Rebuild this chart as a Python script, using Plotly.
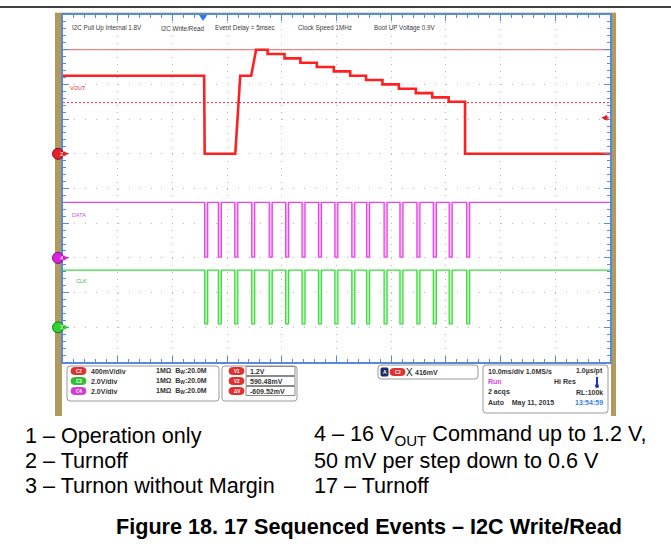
import plotly.graph_objects as go

W, H = 671, 557

# ---- data (time in ms, levels in V) ----
vout_t = [0.0, 25.8, 25.9, 31.5, 32.4, 34.4, 35.3]
vout_v = [0.90, 0.90, 0.00, 0.00, 0.90, 0.90, 1.20]
step_edges = [37.4, 40.5, 43.4, 46.4, 49.5, 52.5, 55.4, 58.4, 61.4, 64.5, 67.5, 70.5, 73.5]
step_levels = [1.20, 1.15, 1.10, 1.05, 1.00, 0.95, 0.90, 0.85, 0.80, 0.75, 0.70, 0.65, 0.60]
vout_off = 0.0

pulse_t = [25.9, 28.4, 31.4, 34.5, 37.7, 40.7, 43.7, 46.7, 49.7, 52.8, 55.5, 58.7, 61.6, 64.7, 67.7, 70.6, 73.8]
data_hi, data_lo = 3.2, 0.05
clk_hi, clk_lo = 3.3, 0.2

cursor_v1 = 1.2
cursor_v2 = 0.59048
trig_level = 0.416
trig_time = 25.6

screen_notes = ['I2C Pull Up Internal 1.8V', 'I2C Write/Read', 'Event Delay = 5msec',
                'Clock Speed 1MHz', 'Boot UP Voltage 0.9V']
chan_names = ['C2', 'C3', 'C4']
chan_scales = ['400mV/div', '2.0V/div', '2.0V/div']
chan_bw = ['1MΩ  B<sub>W</sub>:20.0M'] * 3
cursor_names = ['V1', 'V2', 'ΔV']
cursor_vals = ['1.2V', '590.48mV', '-609.52mV']
timebase = ['10.0ms/div 1.0MS/s', '1.0µs/pt', 'Run', 'Hi Res', '2 acqs', 'RL:100k',
            'Auto    May 11, 2015', '13:54:59']
left_caption = ['1 – Operation only', '2 – Turnoff', '3 – Turnon without Margin']
right_caption = ['4 – 16 V<sub>OUT</sub> Command up to 1.2 V,', '50 mV per step down to 0.6 V',
                 '17 – Turnoff']
title = 'Figure 18. 17 Sequenced Events – I2C Write/Read'

RED, MAG, GRN = '#ff2020', '#e845e8', '#3ede3e'
BLUE = '#5a8ad6'
PULSE_W = 0.55


def fx(x):
    return x / W


def fy(y):
    return 1 - y / H


def rrect(x0, y0, x1, y1, r):
    return (f"M {fx(x0 + r)},{fy(y0)} L {fx(x1 - r)},{fy(y0)} Q {fx(x1)},{fy(y0)} {fx(x1)},{fy(y0 + r)} "
            f"L {fx(x1)},{fy(y1 - r)} Q {fx(x1)},{fy(y1)} {fx(x1 - r)},{fy(y1)} "
            f"L {fx(x0 + r)},{fy(y1)} Q {fx(x0)},{fy(y1)} {fx(x0)},{fy(y1 - r)} "
            f"L {fx(x0)},{fy(y0 + r)} Q {fx(x0)},{fy(y0)} {fx(x0 + r)},{fy(y0)} Z")


shapes = []
annotations = []


def box(x0, y0, x1, y1, r=3, fill='white', line='#9a9a9a', width=1):
    shapes.append(dict(type='path', path=rrect(x0, y0, x1, y1, r), xref='paper', yref='paper',
                       fillcolor=fill, line=dict(color=line, width=width), layer='above'))


def rect(x0, y0, x1, y1, fill):
    shapes.append(dict(type='rect', xref='paper', yref='paper', x0=fx(x0), x1=fx(x1),
                       y0=fy(y1), y1=fy(y0), fillcolor=fill, line=dict(width=0), layer='below'))


def txt(x, y, s, size=7, color='#333333', bold=False, anchor='left', family='Liberation Sans'):
    annotations.append(dict(x=fx(x), y=fy(y), xref='paper', yref='paper', text=s, showarrow=False,
                            xanchor=anchor, yanchor='middle', borderpad=0,
                            font=dict(size=size, color=color, family=family,
                                      weight='bold' if bold else 'normal')))


def pill(x0, y, s, color):
    box(x0, y - 3.5, x0 + 15, y + 3.5, r=3.5, fill=color, line=color)
    txt(x0 + 7.5, y, s, size=4.5, color='white', bold=True, anchor='center')


# ---- build traces ----
vx, vy = list(vout_t), list(vout_v)
for i, e in enumerate(step_edges):
    nxt = step_levels[i + 1] if i + 1 < len(step_levels) else vout_off
    vx += [e, e]
    vy += [step_levels[i], nxt]
vx.append(100)
vy.append(vout_off)


def pulses(hi, lo):
    lx, ly, fxs, fys = [0], [hi], [], []
    for t in pulse_t:
        lx += [t, t, t + PULSE_W, t + PULSE_W]
        ly += [hi, lo, lo, hi]
        fxs += [t, t, t + PULSE_W, t + PULSE_W, None]
        fys += [hi, lo, lo, hi, None]
    lx.append(100)
    ly.append(hi)
    return lx, ly, fxs, fys


fig = go.Figure()
fig.add_trace(go.Scatter(x=vx, y=vy, mode='lines', line=dict(color=RED, width=2.6), yaxis='y'))

dx, dy, dfx, dfy = pulses(data_hi, data_lo)
fig.add_trace(go.Scatter(x=dfx, y=dfy, fill='toself', fillcolor='#f6c0f6', mode='lines',
                         line=dict(width=0), yaxis='y2'))
fig.add_trace(go.Scatter(x=dx, y=dy, mode='lines', line=dict(color=MAG, width=1.3), yaxis='y2'))

cx, cy, cfx, cfy = pulses(clk_hi, clk_lo)
fig.add_trace(go.Scatter(x=cfx, y=cfy, fill='toself', fillcolor='#c4f2c4', mode='lines',
                         line=dict(width=0), yaxis='y3'))
fig.add_trace(go.Scatter(x=cx, y=cy, mode='lines', line=dict(color=GRN, width=1.3), yaxis='y3'))

# ground reference markers on the left edge (circle + small arrow), placed at 0 V of each channel
for ax, num, col, edge in [('y', '2', '#e8202a', '#801018'), ('y2', '4', '#e020e0', '#801080'),
                           ('y3', '3', '#30d030', '#108010')]:
    shapes.append(dict(type='circle', xref='paper', yref=ax, ysizemode='pixel', yanchor=0,
                       x0=fx(52.5), x1=fx(63.5), y0=-5.5, y1=5.5,
                       fillcolor=col, line=dict(color=edge, width=1), layer='above'))
    shapes.append(dict(type='path', xref='paper', yref=ax, ysizemode='pixel', yanchor=0,
                       path=f'M {fx(64)},2.5 L {fx(68.5)},0 L {fx(64)},-2.5 Z',
                       fillcolor=col, line=dict(width=0), layer='above'))
    annotations.append(dict(x=fx(58), y=0, xref='paper', yref=ax, text=num, showarrow=False,
                            font=dict(size=6, color='white', family='Liberation Sans')))

# ---- scope frame ----
shapes.append(dict(type='line', xref='paper', yref='paper', x0=0, x1=1, y0=fy(7), y1=fy(7),
                   line=dict(color='black', width=1.5)))
rect(55, 12, 616, 14, '#dfe2a8')
rect(55, 13, 62, 416, '#b29a5e')
rect(611, 13, 616, 416, '#b29a5e')

# cursors
shapes.append(dict(type='line', xref='paper', yref='y', x0=fx(63), x1=fx(610), y0=cursor_v1, y1=cursor_v1,
                   line=dict(color='#f08080', width=1.2), layer='between'))
shapes.append(dict(type='line', xref='paper', yref='y', x0=fx(63), x1=fx(610), y0=cursor_v2, y1=cursor_v2,
                   line=dict(color='#e03030', width=1, dash='2px,2px'), layer='between'))

# trigger level arrow and trigger position
annotations.append(dict(x=98.4, y=trig_level, xref='x', yref='y', ax=9, ay=0, text='',
                        showarrow=True, arrowhead=2, arrowsize=0.8, arrowwidth=1.5, arrowcolor='#e02020'))
shapes.append(dict(type='path', xref='x', yref='paper', xsizemode='pixel', ysizemode='pixel',
                   xanchor=trig_time, yanchor=fy(15), path='M -4,0 L 4,0 L 0,-6 Z',
                   fillcolor='#2a7ae2', line=dict(width=0), layer='above'))

# on-screen notes
for s, x in zip(screen_notes, [71, 160, 214, 297, 373]):
    txt(x, 28, s, size=6.3, color='#3a3a3a')

# channel labels
annotations.append(dict(x=0.9, y=0.76, xref='x', yref='y', text='VOUT', showarrow=False, xanchor='left',
                        font=dict(size=5.5, color='#e03030', family='Liberation Sans')))
annotations.append(dict(x=1.2, y=2.5, xref='x', yref='y2', text='DATA', showarrow=False, xanchor='left',
                        font=dict(size=5.5, color='#d050d0', family='Liberation Sans')))
annotations.append(dict(x=2.1, y=2.65, xref='x', yref='y3', text='CLK', showarrow=False, xanchor='left',
                        font=dict(size=5.5, color='#40c040', family='Liberation Sans')))

# ---- info panel under the grid ----
box(67, 366, 219, 401)
for i, (n, sc, bw, col) in enumerate(zip(chan_names, chan_scales, chan_bw, ['#e03030', '#30c030', '#d040d0'])):
    y = 371 + 10 * i
    pill(71, y, n, col)
    txt(90, y, sc, bold=True)
    txt(155, y, bw, bold=True)

box(222, 366, 297, 401)
for i, (n, v) in enumerate(zip(cursor_names, cursor_vals)):
    y = 371 + 10 * i
    pill(229, y, n, '#e03030')
    box(246, y - 4.5, 295, y + 4.5, r=0, line='#8a8a8a')
    txt(249, y, v, bold=True)

box(378, 365, 478, 379)
box(381, 368, 388, 376, r=1, fill='#1c2c5c', line='#1c2c5c')
txt(384.5, 372, 'A', size=5, color='white', bold=True, anchor='center')
pill(390, 372, 'C2', '#e03030')
txt(405, 372, 'X', size=10, color='#222222')
txt(414, 372, '416mV', bold=True)

box(483, 365, 608, 413)
txt(487, 371, timebase[0], bold=True)
txt(604, 371, timebase[1], bold=True, anchor='right')
txt(487, 381.5, timebase[2], bold=True, color='#e040e0')
txt(553, 381.5, timebase[3], bold=True)
txt(487, 392, timebase[4], bold=True)
txt(604, 392, timebase[5], bold=True, anchor='right')
txt(487, 402.5, timebase[6], bold=True)
txt(604, 402.5, timebase[7], bold=True, anchor='right', color='#3a80e0')
shapes.append(dict(type='line', xref='paper', yref='paper', x0=fx(597), x1=fx(597), y0=fy(377), y1=fy(385),
                   line=dict(color='#2030c0', width=2), layer='above'))
shapes.append(dict(type='circle', xref='paper', yref='paper', x0=fx(595), x1=fx(599), y0=fy(388), y1=fy(384),
                   fillcolor='#2030c0', line=dict(width=0), layer='above'))

# ---- captions ----
for i, s in enumerate(left_caption):
    txt(24, 435 + 25 * i, s, size=21.6, color='black')
for i, s in enumerate(right_caption):
    txt(313, 435 + 25 * i, s, size=21.6, color='black')
txt(369, 526, title, size=21.6, color='black', bold=True, anchor='center')

fig.update_layout(
    width=W, height=H, margin=dict(l=0, r=0, t=0, b=0),
    paper_bgcolor='white', plot_bgcolor='white', showlegend=False,
    xaxis=dict(domain=[fx(63), fx(610)], range=[0, 100], tick0=0, dtick=10, showticklabels=False,
               showgrid=True, gridcolor='#b8b8b8', griddash='1px,5.94px', zeroline=False,
               showline=True, linecolor=BLUE, linewidth=2, mirror='ticks', ticks='inside', ticklen=6,
               tickcolor=BLUE, minor=dict(dtick=2, ticks='inside', ticklen=3, tickcolor=BLUE, showgrid=False)),
    yaxis=dict(domain=[fy(362), fy(15)], range=[-2.4, 1.6], tick0=-2.4, dtick=0.4, showticklabels=False,
               showgrid=True, gridcolor='#b8b8b8', griddash='1px,9.94px', zeroline=False,
               showline=True, linecolor=BLUE, linewidth=2, mirror='ticks', ticks='inside', ticklen=6,
               tickcolor=BLUE, minor=dict(dtick=0.08, ticks='inside', ticklen=3, tickcolor=BLUE, showgrid=False)),
    yaxis2=dict(overlaying='y', anchor='x', range=[-6, 14], visible=False),
    yaxis3=dict(overlaying='y', anchor='x', range=[-2, 18], visible=False),
    shapes=shapes, annotations=annotations,
)

# the page's default body margin would shift the figure by 8px
fig.write_html("out.html", config={'displayModeBar': False},
               post_script="document.body.style.margin='0px';")
